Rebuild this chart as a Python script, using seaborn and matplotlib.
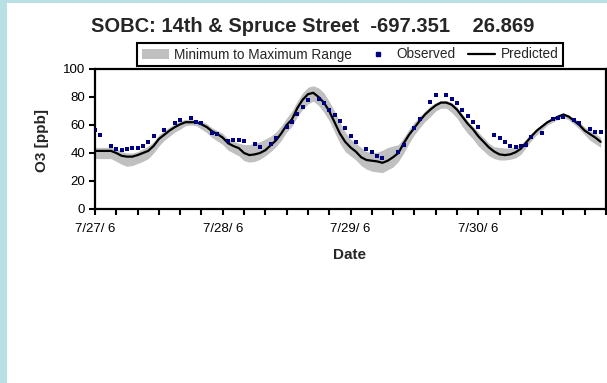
import numpy as np
import pandas as pd
import matplotlib
matplotlib.use("Agg")
import matplotlib.pyplot as plt
from matplotlib.patches import Patch, Rectangle
from matplotlib.lines import Line2D
import seaborn as sns

sns.set_theme(style="white")
plt.rcParams['font.family'] = ['Liberation Sans', 'DejaVu Sans']

# ---------------- data ----------------
title = "SOBC: 14th & Spruce Street  -697.351    26.869"
day_labels = ["7/27/ 6", "7/28/ 6", "7/29/ 6", "7/30/ 6"]
hours = list(range(96))

predicted = [41.5, 41.5, 41.5, 41.5, 40, 38, 37.4, 37.4, 38.5, 40,
             41.5, 45, 50, 53, 56, 58.5, 60.5, 62, 62, 62,
             60.5, 58.5, 55.5, 53.5, 51, 47, 45, 43.5, 40, 38.5,
             39, 40, 42, 45.5, 49, 54, 60, 64, 72, 78,
             82, 83, 80, 76, 70, 62, 54, 48, 44, 41,
             37, 35, 34.5, 34, 33, 34.5, 37, 40, 47, 53,
             58, 63, 67.5, 71, 74, 76, 76, 74.5, 71, 66,
             61, 57, 52, 48, 44, 41, 39, 38.5, 39, 40.5,
             43, 47.5, 52, 56, 59, 62, 64, 66, 67.5, 66,
             63, 60, 56, 53.5, 51, 48]

range_max = [44, 44, 44, 44, 43, 41, 40, 40, 41, 43,
             45, 48, 53, 56, 58.5, 61, 63, 64, 64, 64,
             62.5, 61, 58, 56, 54, 50, 48.5, 47, 46, 46,
             47, 48, 50, 52, 55, 59.5, 65, 70, 77, 83,
             87, 88, 86.5, 83, 77, 70, 62, 55, 50, 47,
             44, 41, 40.5, 40.5, 42, 44, 45, 46, 51, 57,
             62, 66, 70, 73.5, 76, 77.5, 77.5, 76, 73, 68,
             63, 59, 55, 51, 47, 44.5, 44, 43.5, 43.5, 44.5,
             46, 50, 54, 57.5, 60.5, 63, 65, 67, 68.5, 67,
             65, 62, 58.5, 56, 54, 51]

range_min = [36, 36, 36, 36, 34, 32, 30.5, 31, 32.5, 34,
             36, 40, 45, 49, 52, 55, 57, 59.5, 60, 59.5,
             57, 54.5, 51, 48.5, 46, 42, 40, 38, 34.5, 33.5,
             34, 35.5, 38, 41, 44.5, 49, 55, 59, 66, 71,
             75, 77, 74, 69, 63, 55, 47, 41, 38, 35,
             31, 28.5, 27, 26.5, 26, 28, 30, 34, 40, 47,
             53, 58, 62.5, 66, 70, 72, 72, 69, 65, 59,
             54, 50, 45, 41.5, 38, 36, 35, 35, 35.5, 36.5,
             39, 44, 49, 53, 56.5, 60, 62, 64, 65.5, 63.5,
             60.5, 57, 53, 49, 46.5, 44]

observed = [56.4, 52.9, None, 45, 43, 42, 42.5, 43.3, 43.8, 45,
            48, 52, None, 56.4, None, 61.7, 63.8, None, 65, 62.4,
            61.2, None, 54.5, 53.6, None, 48.8, 49, 49.3, 48.8, None,
            46.2, 44, None, 46.4, 50.5, None, 58.5, 62.4, 67.6, 73,
            77.9, None, 78.6, 75.5, 70.7, 67.1, 63.1, 57.6, 52.1, 48,
            None, 42.6, 41, 38.1, 36.7, None, None, 41, 45.7, None,
            57.6, 64, None, 76.7, 81.4, None, 81.4, 78.3, 75.5, 70.7,
            66.4, 62.4, 58.8, None, None, 52.9, 50.5, 48, 45, 44.5,
            45, 45.7, 51.7, None, 54.5, None, 64, 65, 65.5, None,
            63.6, 61.2, None, 56.9, 55.2, 55.2]

df = pd.DataFrame({
    "hour": hours,
    "predicted": predicted,
    "rmin": range_min,
    "rmax": range_max,
    "observed": pd.to_numeric(pd.Series(observed, dtype="object"), errors="coerce"),
})

# ---------------- figure ----------------
W, H = 607, 383
fig = plt.figure(figsize=(W / 100, H / 100), dpi=100)
fig.patch.set_facecolor("white")

# light blue frame strips (left and top)
blue = "#B9E0E4"
fig.patches.append(Rectangle((0, 0), 7 / W, 1, transform=fig.transFigure,
                             facecolor=blue, edgecolor="none", zorder=0))
fig.patches.append(Rectangle((0, 1 - 3 / H), 1, 3 / H, transform=fig.transFigure,
                             facecolor=blue, edgecolor="none", zorder=0))

ax_l, ax_r, ax_t, ax_b = 95, 606, 69, 209
ax = fig.add_axes([ax_l / W, 1 - ax_b / H, (ax_r - ax_l) / W, (ax_b - ax_t) / H])
ax.set_facecolor("white")

range_color = "#C0C0C0"
ax.fill_between(df["hour"], df["rmin"], df["rmax"], color=range_color,
                linewidth=0, zorder=1)
sns.lineplot(data=df, x="hour", y="predicted", ax=ax, color="black",
             linewidth=1.6, zorder=3)
sns.scatterplot(data=df.dropna(subset=["observed"]), x="hour", y="observed",
                ax=ax, color="#000080", marker="s", s=7, linewidth=0, zorder=4)

ax.set_xlim(0, 96)
ax.set_ylim(0, 100)
ax.set_yticks([0, 20, 40, 60, 80, 100])
ax.set_xticks(list(range(0, 97, 4)))
xt_labels = []
for t in range(0, 97, 4):
    if t % 24 == 0 and t // 24 < len(day_labels):
        xt_labels.append(day_labels[t // 24])
    else:
        xt_labels.append("")
ax.set_xticklabels(xt_labels)

ax.tick_params(axis="both", which="major", direction="out", length=4,
               width=1.5, color="black", labelsize=9.5, labelcolor="black",
               left=True, bottom=True)
ax.tick_params(axis="y", pad=3)
ax.tick_params(axis="x", pad=6)
for sp in ax.spines.values():
    sp.set_visible(True)
    sp.set_color("black")
    sp.set_linewidth(1.6)

ax.set_xlabel("")
ax.set_ylabel("")
fig.text(350 / W, 1 - 255 / H, "Date", ha="center", va="center",
         fontsize=11, fontweight="bold")
fig.text(42 / W, 1 - 140 / H, "O3 [ppb]", ha="center", va="center",
         rotation=90, fontsize=11, fontweight="bold")

fig.text(313 / W, 1 - 26.5 / H, title, ha="center", va="center",
         fontsize=14.5, fontweight="bold")

handles = [
    Patch(facecolor=range_color, edgecolor="none", label="Minimum to Maximum Range"),
    Line2D([], [], linestyle="none", marker="s", markersize=2.5, color="#000080",
           label="Observed"),
    Line2D([], [], color="black", linewidth=1.6, label="Predicted"),
]
lx0, lx1, ly0, ly1 = 137, 563, 42, 67
leg = fig.legend(handles=handles, loc="center",
                 bbox_to_anchor=(lx0 / W, 1 - ly1 / H, (lx1 - lx0) / W, (ly1 - ly0) / H),
                 mode="expand", ncol=3, frameon=True, fancybox=False,
                 fontsize=9.8, handlelength=2.0, handletextpad=0.4,
                 columnspacing=1.0, borderpad=0.35, borderaxespad=0)
leg.get_frame().set_edgecolor("black")
leg.get_frame().set_linewidth(1.5)
leg.get_frame().set_facecolor("white")
leg.get_frame().set_alpha(1)

fig.savefig("out.png", dpi=100, facecolor=fig.get_facecolor())
